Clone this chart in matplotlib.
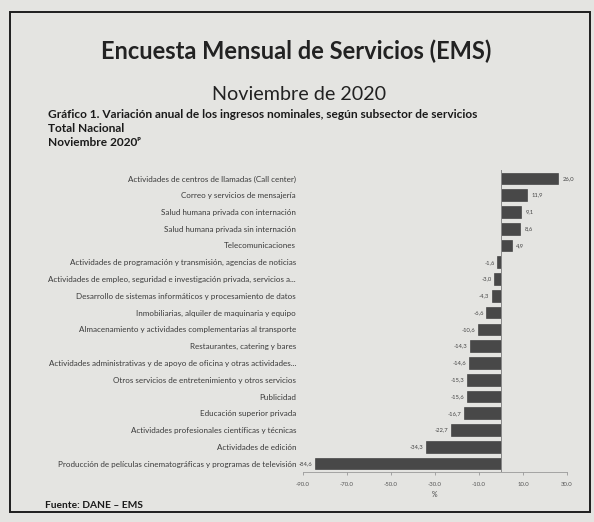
import matplotlib
matplotlib.use("Agg")
import matplotlib.pyplot as plt
from matplotlib.patches import Rectangle

categories = [
    "Actividades de centros de llamadas (Call center)",
    "Correo y servicios de mensajería",
    "Salud humana privada con internación",
    "Salud humana privada sin internación",
    "Telecomunicaciones",
    "Actividades de programación y transmisión, agencias de noticias",
    "Actividades de empleo, seguridad e investigación privada, servicios a...",
    "Desarrollo de sistemas informáticos y procesamiento de datos",
    "Inmobiliarias, alquiler de maquinaria y equipo",
    "Almacenamiento y actividades complementarias al transporte",
    "Restaurantes, catering y bares",
    "Actividades administrativas y de apoyo de oficina y otras actividades...",
    "Otros servicios de entretenimiento y otros servicios",
    "Publicidad",
    "Educación superior privada",
    "Actividades profesionales científicas y técnicas",
    "Actividades de edición",
    "Producción de películas cinematográficas y programas de televisión",
]
values = [26.0, 11.9, 9.1, 8.6, 4.9, -1.6, -3.0, -4.3, -6.6, -10.6,
          -14.3, -14.6, -15.3, -15.6, -16.7, -22.7, -34.3, -84.6]
xticks = [-90, -70, -50, -30, -10, 10, 30]

title = "Encuesta Mensual de Servicios (EMS)"
subtitle = "Noviembre de 2020"
chart_title = ["Gráfico 1. Variación anual de los ingresos nominales, según subsector de servicios",
               "Total Nacional", "Noviembre 2020ᵖ"]
source = "Fuente: DANE – EMS"

W, H = 594, 522
bg = "#e4e4e1"
fig = plt.figure(figsize=(W / 100, H / 100), dpi=100, facecolor=bg)
plt.rcParams["font.family"] = ["Lato", "DejaVu Sans"]

def fx(px):
    return px / W

def fy(py):
    return 1 - py / H

# outer border
fig.add_artist(Rectangle((fx(10), fy(512)), fx(580), (512 - 12) / H,
                         transform=fig.transFigure, fill=False,
                         edgecolor="#1e1e1e", lw=1.4))

fig.text(fx(296), fy(51), title, ha="center", va="center",
         fontsize=17, fontweight="bold", color="#222222")
fig.text(fx(299), fy(95), subtitle, ha="center", va="center",
         fontsize=14.2, color="#222222")
for i, t in enumerate(chart_title):
    fig.text(fx(48), fy(115 + 13.5 * i), t, ha="left", va="center",
             fontsize=8.6, fontweight="bold", color="#1a1a1a")
fig.text(fx(45), fy(505), source, ha="left", va="center",
         fontsize=7.3, fontweight="bold", color="#1a1a1a")

ax = fig.add_axes([fx(303), fy(472), fx(567 - 303), (472 - 170) / H])
ax.set_facecolor("none")
y = list(range(len(categories)))
ax.barh(y, values, height=0.7, color="#484848", edgecolor="#333333", lw=0.4)
ax.set_ylim(len(categories) - 0.5, -0.5)
ax.set_xlim(-90, 30)
ax.set_yticks(y)
ax.set_yticklabels(categories, fontsize=5.8, color="#3a3a3a")
ax.tick_params(axis="y", length=0, pad=5)
ax.set_xticks(xticks)
ax.set_xticklabels([f"{t:.1f}" for t in xticks], fontsize=4.3, color="#555555")
ax.tick_params(axis="x", length=2, width=0.5, color="#888888", pad=5)
for s in ["top", "right", "left"]:
    ax.spines[s].set_visible(False)
ax.spines["bottom"].set_color("#999999")
ax.spines["bottom"].set_linewidth(0.6)
ax.axvline(0, color="#888888", lw=0.7)
ax.set_xlabel("%", fontsize=5, color="#444444", labelpad=3)

for yi, v in zip(y, values):
    lab = f"{v:.1f}".replace(".", ",")
    if v >= 0:
        ax.text(v + 2.0, yi, lab, ha="left", va="center", fontsize=4.2, color="#444444")
    else:
        ax.text(v - 1.2, yi, lab, ha="right", va="center", fontsize=4.2, color="#444444")

fig.savefig("out.png", dpi=100, facecolor=bg)
